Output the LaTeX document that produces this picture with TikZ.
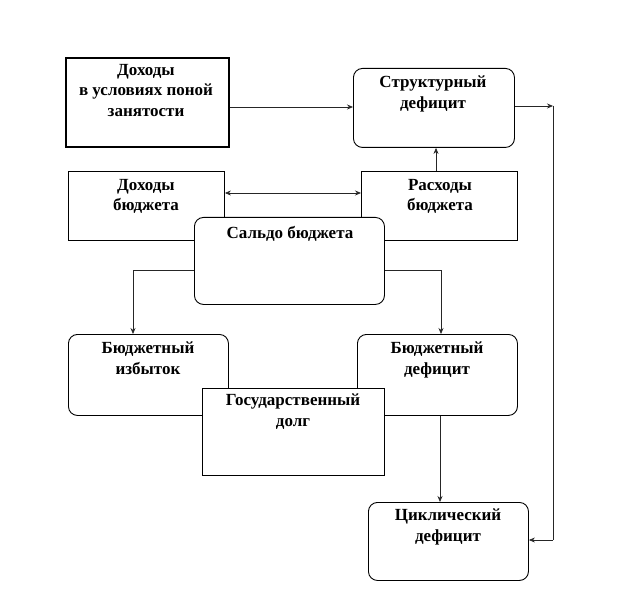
\documentclass[tikz,border=0pt]{standalone}
\usepackage{fontspec}
\setmainfont{Liberation Serif}
\usetikzlibrary{arrows.meta}
\begin{document}
\begin{tikzpicture}[x=1pt,y=-1pt,
  box/.style={draw=black,line width=0.9pt,fill=white,inner sep=0pt,anchor=north west},
  rbox/.style={box,rounded corners=9pt},
  txt/.style={font=\fontsize{17}{20.5}\selectfont\bfseries,align=center,inner sep=0pt,anchor=north},
  conn/.style={line width=0.7pt,draw=black!85},
  arr/.style={conn,-{Stealth[length=6pt,width=5pt]}},
  darr/.style={conn,{Stealth[length=6pt,width=5pt]}-{Stealth[length=6pt,width=5pt]}}]
\useasboundingbox (0,0) rectangle (623,612);
% top row
\node[box,line width=1.6pt,minimum width=163pt,minimum height=89pt] (full) at (65,57) {};
\node[txt] (fullt) at (146,64) {Доходы\\в условиях поной\\занятости};
\node[rbox,minimum width=161pt,minimum height=79pt] (struct) at (353,68) {};
\node[txt] (structt) at (433,76) {Структурный\\дефицит};
% second row
\node[box,minimum width=156pt,minimum height=69pt] (inc) at (68,171) {};
\node[txt] (inct) at (146,179) {Доходы\\бюджета};
\node[box,minimum width=156pt,minimum height=69pt] (exp) at (361,171) {};
\node[txt] (expt) at (440,179) {Расходы\\бюджета};
\node[rbox,minimum width=190pt,minimum height=87pt] (saldo) at (194,217) {};
\node[txt] (saldot) at (290,226) {Сальдо бюджета};
% third row
\node[rbox,minimum width=160pt,minimum height=81pt] (surp) at (68,334) {};
\node[txt] (surpt) at (148,342) {Бюджетный\\избыток};
\node[rbox,minimum width=160pt,minimum height=81pt] (def) at (357,334) {};
\node[txt] (deft) at (437,342) {Бюджетный\\дефицит};
\node[box,minimum width=182pt,minimum height=87pt] (debt) at (202,388) {};
\node[txt] (debtt) at (293,394) {Государственный\\долг};
% bottom
\node[rbox,minimum width=160pt,minimum height=78pt] (cyc) at (368,502) {};
\node[txt] (cyct) at (448,509) {Циклический\\дефицит};
% connectors
\coordinate (c1) at (553,106);
\coordinate (c2) at (553,540);
\coordinate (s1) at (133,270);
\coordinate (s2) at (441,270);
\draw[arr] (full.east |- 0,107) -- (struct.west |- 0,107);
\draw[arr] (struct.east |- c1) -- (c1);
\draw[conn] (c1) -- (c2);
\draw[arr] (c2) -- (cyc.east |- c2);
\draw[darr] (inc.east |- 0,193) -- (exp.west |- 0,193);
\draw[arr] (exp.north -| 436,0) -- (struct.south -| 436,0);
\draw[arr] (saldo.west |- s1) -- (s1) -- (surp.north -| s1);
\draw[arr] (saldo.east |- s2) -- (s2) -- (def.north -| s2);
\draw[arr] (def.south -| 440,0) -- (cyc.north -| 440,0);
\end{tikzpicture}
\end{document}
